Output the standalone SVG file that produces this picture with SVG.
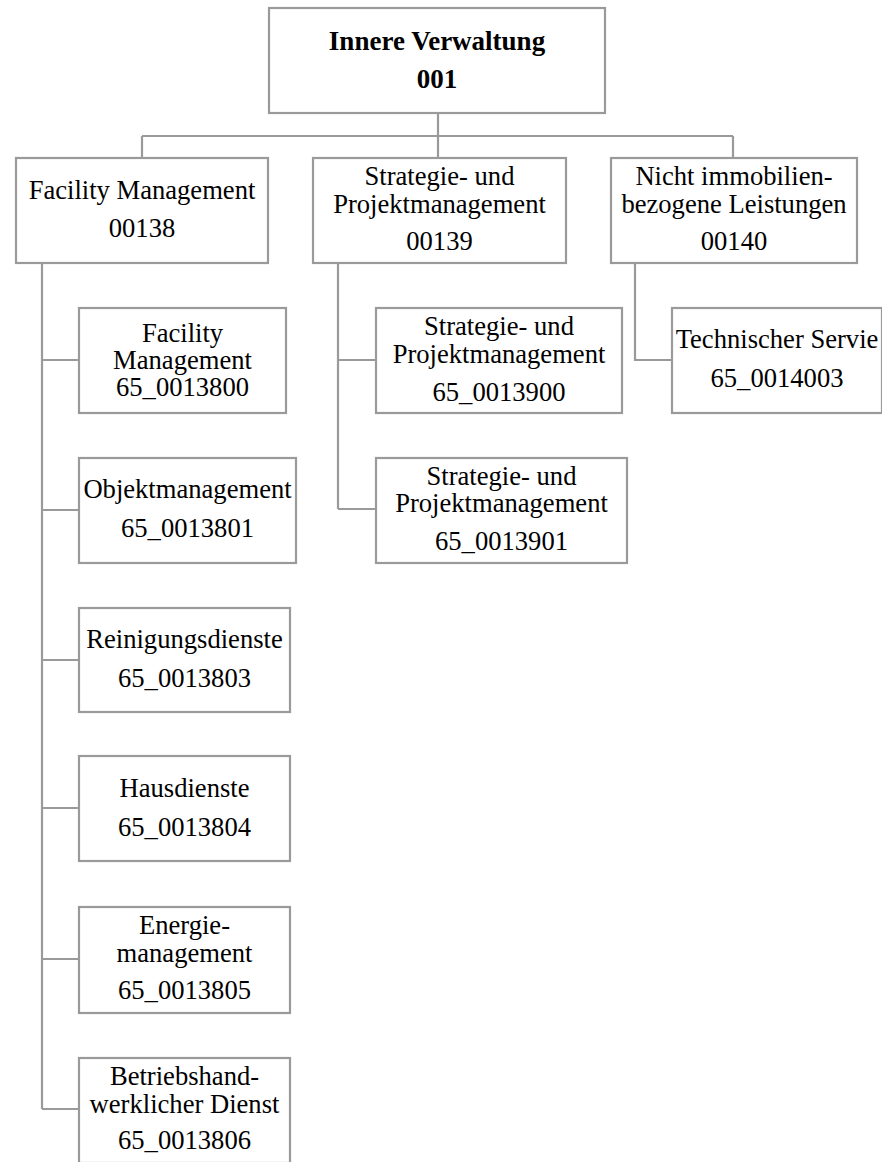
<svg xmlns="http://www.w3.org/2000/svg" width="882" height="1162" viewBox="0 0 882 1162">
<style>
.box{fill:#fff;stroke:#9a9a9a;stroke-width:2.2}
.con{fill:none;stroke:#9a9a9a;stroke-width:2.2}
text{font-family:"Liberation Serif","Times New Roman",serif;font-size:26.6px;fill:#000;text-anchor:middle}
.b{font-weight:bold;font-size:27px}
</style>
<rect width="882" height="1162" fill="#fff"/>
<g id="connectors">
<path class="con" d="M438 113V136M142 136H733M142 136V158M438 136V158M733 136V158"/>
<path class="con" d="M42 263V1109M42 360H79M42 510H79M42 660H79M42 808H79M42 959H79M42 1109H79"/>
<path class="con" d="M338 263V509M338 360H376M338 509H376"/>
<path class="con" d="M635 263V360H672"/>
</g>
<g id="n001">
<rect class="box" x="269" y="8" width="336" height="105"/>
<text class="b" x="437" y="50">Innere Verwaltung</text>
<text class="b" x="437" y="88">001</text>
</g>
<g id="n00138">
<rect class="box" x="16" y="158" width="252" height="105"/>
<text x="142" y="199">Facility Management</text>
<text x="142" y="237">00138</text>
</g>
<g id="n00139">
<rect class="box" x="313" y="158" width="253" height="105"/>
<text x="439.5" y="185">Strategie- und</text>
<text x="439.5" y="213">Projektmanagement</text>
<text x="439.5" y="250">00139</text>
</g>
<g id="n00140">
<rect class="box" x="611" y="158" width="246" height="105"/>
<text x="734" y="185">Nicht immobilien-</text>
<text x="734" y="213">bezogene Leistungen</text>
<text x="734" y="250">00140</text>
</g>
<g id="n65_0013800">
<rect class="box" x="79" y="308" width="207" height="105"/>
<text x="182.5" y="342">Facility</text>
<text x="182.5" y="369">Management</text>
<text x="182.5" y="396">65_0013800</text>
</g>
<g id="n65_0013801">
<rect class="box" x="79" y="458" width="217" height="105"/>
<text x="187.5" y="498">Objektmanagement</text>
<text x="187.5" y="537">65_0013801</text>
</g>
<g id="n65_0013803">
<rect class="box" x="79" y="608" width="211" height="104"/>
<text x="184.5" y="648">Reinigungsdienste</text>
<text x="184.5" y="687">65_0013803</text>
</g>
<g id="n65_0013804">
<rect class="box" x="79" y="756" width="211" height="105"/>
<text x="184.5" y="797">Hausdienste</text>
<text x="184.5" y="836">65_0013804</text>
</g>
<g id="n65_0013805">
<rect class="box" x="79" y="907" width="211" height="106"/>
<text x="184.5" y="934">Energie-</text>
<text x="184.5" y="962">management</text>
<text x="184.5" y="999">65_0013805</text>
</g>
<g id="n65_0013806">
<rect class="box" x="79" y="1058" width="211" height="105"/>
<text x="184.5" y="1085">Betriebshand-</text>
<text x="184.5" y="1113">werklicher Dienst</text>
<text x="184.5" y="1149">65_0013806</text>
</g>
<g id="n65_0013900">
<rect class="box" x="376" y="308" width="246" height="105"/>
<text x="499" y="335">Strategie- und</text>
<text x="499" y="363">Projektmanagement</text>
<text x="499" y="401">65_0013900</text>
</g>
<g id="n65_0013901">
<rect class="box" x="376" y="458" width="251" height="105"/>
<text x="501.5" y="485">Strategie- und</text>
<text x="501.5" y="512">Projektmanagement</text>
<text x="501.5" y="550">65_0013901</text>
</g>
<g id="n65_0014003">
<rect class="box" x="672" y="308" width="210" height="105"/>
<text x="777" y="348">Technischer Servie</text>
<text x="777" y="387">65_0014003</text>
</g>
</svg>
